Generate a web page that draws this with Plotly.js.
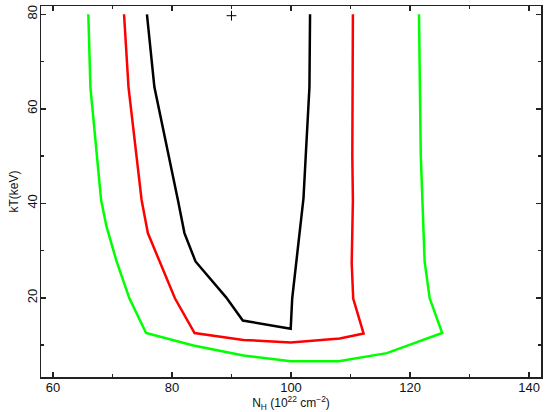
<!DOCTYPE html>
<html>
<head>
<meta charset="utf-8">
<script src="https://cdn.plot.ly/plotly-3.0.1.min.js"></script>
<style>html,body{margin:0;padding:0;background:#fff;}#chart{width:550px;height:412px;}</style>
</head>
<body>
<div id="chart"></div>
<script>
// 68% (black) contour
const blackNH = [75.8, 77.05, 81.0, 82.1, 83.96, 89.1, 91.9, 99.95, 100.2, 101.6, 102.1, 102.5, 103.1, 103.2];
const blackKT = [80, 64.6, 40.7, 33.7, 27.7, 20.1, 15.2, 13.45, 19.85, 35.1, 41.1, 50.6, 64.6, 80];
// 90% (red) contour
const redNH = [71.95, 72.7, 74.9, 75.95, 80.5, 83.8, 92.0, 99.95, 108.2, 112.2, 110.45, 110.2, 110.4, 110.3, 110.4];
const redKT = [80, 64.6, 40.7, 33.7, 19.9, 12.55, 11.1, 10.55, 11.4, 12.45, 19.85, 27.3, 40.7, 50.0, 80];
// 99% (green) contour
const greenNH = [65.95, 66.3, 68.1, 69.0, 70.7, 72.85, 75.65, 83.6, 92.0, 99.95, 108.0, 116.1, 125.4, 123.3, 122.45, 122.1, 121.8, 121.5];
const greenKT = [80, 64.6, 40.7, 35.1, 27.7, 19.9, 12.55, 9.9, 7.8, 6.6, 6.6, 8.3, 12.55, 19.9, 27.7, 40.7, 50.2, 80];
// best fit
const bestNH = [90];
const bestKT = [79.7];

const traces = [
  {x: greenNH, y: greenKT, mode: 'lines', line: {color: '#00ff00', width: 2.5}},
  {x: redNH, y: redKT, mode: 'lines', line: {color: '#ff0000', width: 2.5}},
  {x: blackNH, y: blackKT, mode: 'lines', line: {color: '#000000', width: 2.5}},
  {x: bestNH, y: bestKT, mode: 'markers', marker: {symbol: 'cross-thin-open', size: 7, color: '#000', line: {color: '#000', width: 1}}}
];

const axisCommon = {
  showline: true, linecolor: '#222', linewidth: 1.5, mirror: 'ticks',
  ticks: 'inside', ticklen: 5, tickwidth: 1.5, tickcolor: '#222',
  showgrid: false, zeroline: false,
  tickfont: {family: 'Liberation Sans, Arial, sans-serif', size: 13, color: '#111'}
};

const layout = {
  width: 550, height: 412,
  margin: {l: 41, r: 9, t: 6, b: 35},
  showlegend: false,
  paper_bgcolor: '#fff', plot_bgcolor: '#fff',
  xaxis: Object.assign({}, axisCommon, {
    range: [58, 142], tick0: 60, dtick: 20, ticklabelstandoff: -2,
    minor: {dtick: 10, tick0: 60, ticks: 'inside', ticklen: 3, tickwidth: 1.5, tickcolor: '#222', showgrid: false},
    title: {text: 'N<sub>H</sub> (10<sup>22</sup> cm<sup>−2</sup>)', standoff: 0,
            font: {family: 'Liberation Sans, Arial, sans-serif', size: 12, color: '#111'}}
  }),
  yaxis: Object.assign({}, axisCommon, {
    range: [3.25, 81.75], tick0: 0, dtick: 20, tickangle: -90, ticklabelstandoff: -3,
    minor: {dtick: 10, tick0: 0, ticks: 'inside', ticklen: 3, tickwidth: 1.5, tickcolor: '#222', showgrid: false},
    title: {text: 'kT(keV)', standoff: 4,
            font: {family: 'Liberation Sans, Arial, sans-serif', size: 12, color: '#111'}}
  })
};

Plotly.newPlot('chart', traces, layout, {staticPlot: true, displayModeBar: false});
</script>
</body>
</html>
